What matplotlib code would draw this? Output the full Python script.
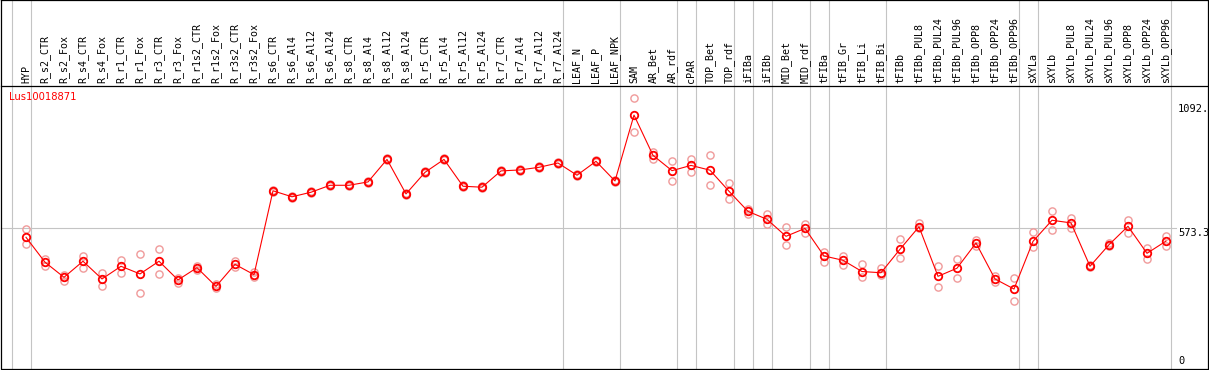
import numpy as np
import matplotlib
matplotlib.use("Agg")
import matplotlib.pyplot as plt

# --- data -------------------------------------------------------------
gene = "Lus10018871"

samples = ["HYP",
           "R_s2_CTR", "R_s2_Fox", "R_s4_CTR", "R_s4_Fox", "R_r1_CTR", "R_r1_Fox",
           "R_r3_CTR", "R_r3_Fox", "R_r1s2_CTR", "R_r1s2_Fox", "R_r3s2_CTR", "R_r3s2_Fox",
           "R_s6_CTR", "R_s6_Al4", "R_s6_Al12", "R_s6_Al24", "R_s8_CTR", "R_s8_Al4",
           "R_s8_Al12", "R_s8_Al24", "R_r5_CTR", "R_r5_Al4", "R_r5_Al12", "R_r5_Al24",
           "R_r7_CTR", "R_r7_Al4", "R_r7_Al12", "R_r7_Al24",
           "LEAF_N", "LEAF_P", "LEAF_NPK",
           "SAM", "AR_Bet", "AR_rdf",
           "cPAR",
           "TOP_Bet", "TOP_rdf",
           "iFIBa",
           "iFIBb",
           "MID_Bet", "MID_rdf",
           "tFIBa",
           "tFIB_Gr", "tFIB_Li", "tFIB_Bi",
           "tFIBb", "tFIBb_PUL8", "tFIBb_PUL24", "tFIBb_PUL96", "tFIBb_OPP8",
           "tFIBb_OPP24", "tFIBb_OPP96",
           "sXYLa",
           "sXYLb", "sXYLb_PUL8", "sXYLb_PUL24", "sXYLb_PUL96", "sXYLb_OPP8",
           "sXYLb_OPP24", "sXYLb_OPP96"]

# number of samples in each tissue group (grey separators between groups)
group_sizes = [1, 28, 3, 3, 1, 2, 1, 1, 2, 1, 3, 7, 1, 7]

mean_expr = [536, 432, 369, 436, 362, 415, 383, 436, 358, 409, 331, 423, 380,
             730, 705, 724, 753, 753, 767, 861, 717, 807, 861, 749, 745,
             813, 817, 828, 846,
             795, 853, 771,
             1046, 878, 814,
             836,
             816, 728,
             644,
             611,
             540, 573,
             458,
             440, 393, 388,
             486, 580, 373, 407, 512, 362, 320,
             519,
             607, 596, 415, 505, 582, 469, 520]

rep1 = [571, 445, 379, 459, 387, 440, 465, 486, 367, 417, 341, 437, 390,
        734, 709, 728, 757, 757, 771, 865, 721, 811, 865, 753, 749,
        817, 821, 832, 850,
        799, 857, 775,
        1116, 893, 854,
        864,
        879, 761,
        653,
        632,
        579, 591,
        476,
        458, 426, 407,
        528, 594, 416, 445, 525, 374, 367,
        557,
        644, 616, 420, 512, 609, 493, 543]

rep2 = [507, 417, 355, 409, 334, 388, 302, 382, 346, 399, 323, 413, 371,
        727, 702, 720, 749, 749, 763, 857, 713, 803, 857, 745, 741,
        809, 813, 824, 842,
        791, 849, 767,
        977, 861, 770,
        807,
        753, 695,
        633,
        591,
        503, 553,
        432,
        420, 371, 377,
        450, 575, 330, 367, 500, 348, 269,
        497,
        566, 576, 411, 498, 553, 444, 498]

ytick_vals = [1092.0, 573.3, 0]
ytick_text = ["1092.", "573.3", "0"]

# --- pixel helpers (layout only) -------------------------------------
W, H = 1209, 370
X0, DX = 26.0, 19.0          # pixel x of first sample, spacing
Y_ZERO, PX_PER_UNIT = 365.7, 0.2396


def px(p):
    return (p - X0) / DX


def py(p):
    return (Y_ZERO - p) / PX_PER_UNIT


fig = plt.figure(figsize=(W / 100, H / 100), dpi=100)
ax = fig.add_axes([0, 0, 1, 1])
ax.set_xlim(px(0), px(W))
ax.set_ylim(py(H), py(0))
ax.axis("off")

xs = np.arange(len(samples))
grid_c = "#c4c4c4"

# group separators
bounds = np.concatenate([[0], np.cumsum(group_sizes)]) - 1 + 0.24
for b in bounds:
    ax.plot([b, b], [py(0), py(368.5)], color=grid_c, lw=0.8, zorder=1)

# horizontal reference line at the middle tick
ax.plot([px(1.5), px(1176)], [573.3, 573.3], color=grid_c, lw=0.8, zorder=1)

# frame and header separator
ax.plot([px(1.5), px(1208), px(1208), px(1.5), px(1.5)],
        [py(0.5), py(0.5), py(368.5), py(368.5), py(0.5)],
        color="black", lw=0.9, zorder=5)
ax.plot([px(1.5), px(1208)], [py(85.5), py(85.5)], color="black", lw=0.9, zorder=5)

# sample labels
for x, name in zip(xs, samples):
    ax.text(x, py(83.5), name, rotation=90, ha="center", va="bottom",
            fontsize=7.2, family="DejaVu Sans Mono", color="black", zorder=6)

# y tick labels on the right
for v, t in zip(ytick_vals, ytick_text):
    ax.text(px(1178), v, t, ha="left", va="bottom" if v == 0 else "top",
            fontsize=7.5, family="DejaVu Sans Mono", color="black", zorder=6)

ax.text(px(9), py(97.5), gene, color="red", fontsize=7.2, ha="left", va="center", zorder=6)

# replicates
for r in (rep1, rep2):
    ax.plot(xs, r, ls="none", marker="o", ms=5.2, mfc="none", mec="#f09a9a", mew=1.0, zorder=3)

# mean line
ax.plot(xs, mean_expr, color="red", lw=0.8, marker="o", ms=5.4, mfc="none",
        mec="red", mew=1.3, zorder=4)

fig.savefig("out.png", dpi=100)
